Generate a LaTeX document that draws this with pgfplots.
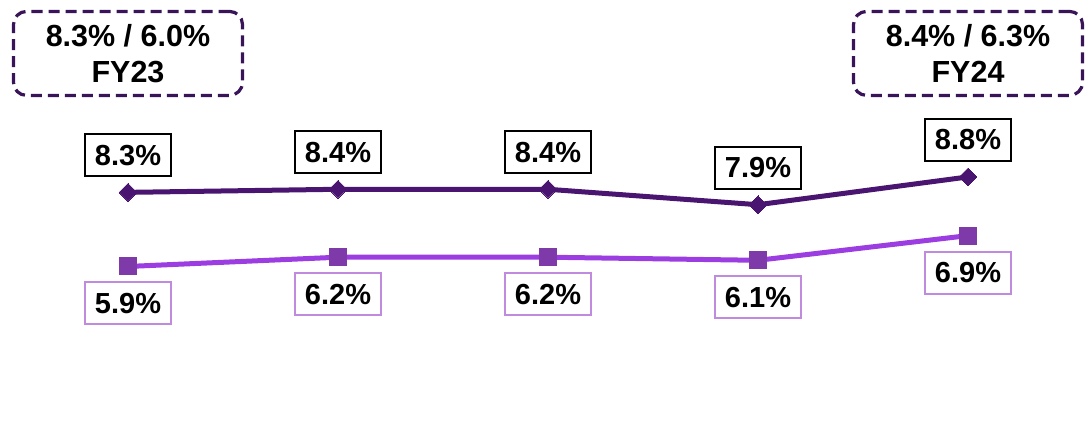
\documentclass[border=0pt]{standalone}
\usepackage{pgfplots}
\pgfplotsset{compat=1.18}
\usepackage{fontspec}
\setmainfont{Liberation Sans}
\definecolor{darkp}{HTML}{4A1571}
\definecolor{lightp}{HTML}{9B3DE0}
\definecolor{sqp}{HTML}{7D3AA8}
\definecolor{lblp}{HTML}{C08ADF}
\definecolor{boxp}{HTML}{3A1458}
\begin{document}
\begin{tikzpicture}
\begin{axis}[
  scale only axis, width=1089pt, height=440pt,
  xmin=-0.6095, xmax=4.576, ymin=0.28, ymax=14.53,
  hide axis, clip=false,
  point meta=explicit symbolic,
  nodes near coords,
  nodes near coords style={font=\fontsize{29}{30}\selectfont\bfseries, text=black, fill=white, line width=2pt,
     minimum width=86pt, minimum height=42pt, inner sep=0pt},
]
\path (rel axis cs:0,0) rectangle (rel axis cs:1,1);
\addplot[color=darkp, line width=5pt, mark=square*, mark size=6.3pt,
  mark options={fill=darkp, draw=darkp, line width=0pt, rotate=45},
  every node near coord/.append style={draw=black, anchor=south, yshift=15pt}]
  coordinates {(0,8.3) [8.3\%] (1,8.4) [8.4\%] (2,8.4) [8.4\%] (3,7.9) [7.9\%] (4,8.8) [8.8\%]};
\addplot[color=lightp, line width=5pt, mark=square*, mark size=8.5pt,
  mark options={fill=sqp, draw=sqp, line width=0pt},
  every node near coord/.append style={draw=lblp, anchor=north, yshift=-15pt}]
  coordinates {(0,5.9) [5.9\%] (1,6.2) [6.2\%] (2,6.2) [6.2\%] (3,6.1) [6.1\%] (4,6.9) [6.9\%]};
\node[draw=boxp, line width=3.2pt, dash pattern=on 11pt off 6pt, rounded corners=13pt,
  minimum width=229pt, minimum height=84pt, align=center, inner sep=0pt,
  font=\fontsize{30.5}{36}\selectfont\bfseries] at (axis cs:0,12.8) {8.3\% / 6.0\%\\FY23};
\node[draw=boxp, line width=3.2pt, dash pattern=on 11pt off 6pt, rounded corners=13pt,
  minimum width=229pt, minimum height=84pt, align=center, inner sep=0pt,
  font=\fontsize{30.5}{36}\selectfont\bfseries] at (axis cs:4,12.8) {8.4\% / 6.3\%\\FY24};
\end{axis}
\end{tikzpicture}
\end{document}
